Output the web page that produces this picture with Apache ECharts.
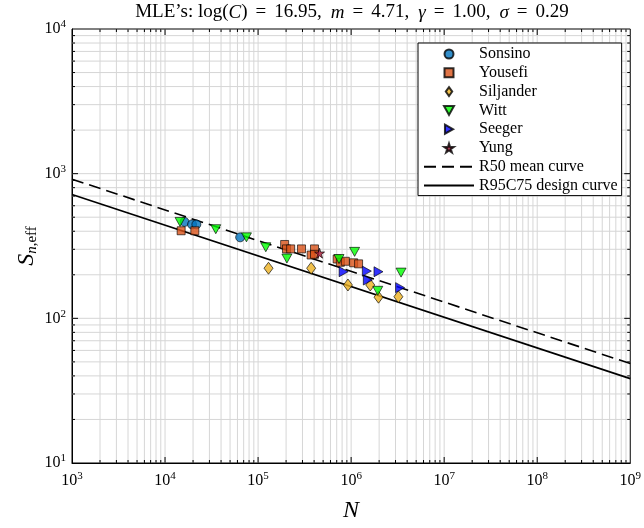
<!DOCTYPE html>
<html>
<head>
<meta charset="utf-8">
<script src="https://cdn.jsdelivr.net/npm/echarts@6/dist/echarts.min.js"></script>
<style>html,body{margin:0;padding:0;background:#fff}#c{width:644px;height:528px}</style>
</head>
<body>
<div id="c"></div>
<script>
// ---- data ----
const sonsinoN = [16.2e3, 19.5e3, 21.7e3, 64.2e3];
const sonsinoS = [464, 446, 446, 363];
const yousefiN = [14.9e3, 20.9e3, 193e3, 202e3, 224e3, 293e3, 404e3, 372e3, 404e3, 708e3, 766e3, 867e3, 1.064e6, 1.203e6];
const yousefiS = [403, 403, 324, 302, 302, 302, 302, 274, 277, 257, 244, 248, 242, 238];
const siljanderN = [129.5e3, 372e3, 924e3, 1.605e6, 1.969e6, 3.22e6];
const siljanderS = [222, 222, 170, 170, 140, 141];
const wittN = [14.5e3, 35.1e3, 75e3, 121e3, 204e3, 741e3, 1.09e6, 1.934e6, 3.44e6];
const wittS = [464, 413, 363, 310, 259, 257, 288, 155, 207];
const seegerN = [831e3, 1.476e6, 1.969e6, 1.512e6, 3.36e6];
const seegerS = [210, 212, 210, 184, 163];
const yungN = [458e3];
const yungS = [282];
const curveN = [1e3, 1e9];
const r50S = [916, 48.7];
const r95S = [719, 38.3];
const xRange = [1e3, 1e9];
const yRange = [10, 1e4];

const FONT = 'Liberation Serif';
const zip = (a, b) => a.map((v, i) => [v, b[i]]);

// minor/major grid positions (axis decoration)
const xGrid = [], yGrid = [];
for (let d = 3; d < 9; d++) for (let k = 1; k <= 9; k++) { const v = k * Math.pow(10, d); if (v > xRange[0] && v < xRange[1]) xGrid.push([v, yRange[0], k === 1 ? 1 : 0]); }
for (let d = 1; d < 4; d++) for (let k = 1; k <= 9; k++) { const v = k * Math.pow(10, d); if (v > yRange[0] && v < yRange[1]) yGrid.push([xRange[0], v, k === 1 ? 1 : 0]); }

const GRIDC = '#d6d6d6';
function renderX(params, api) {
  const v = api.value(0), major = api.value(2) === 1;
  const b = api.coord([v, yRange[0]]), t = api.coord([v, yRange[1]]);
  const len = major ? 6 : 3;
  return { type: 'group', children: [
    { type: 'line', shape: { x1: b[0], y1: b[1], x2: t[0], y2: t[1] }, style: { stroke: GRIDC, lineWidth: 1 } },
    { type: 'line', shape: { x1: b[0], y1: b[1], x2: b[0], y2: b[1] - len }, style: { stroke: '#000', lineWidth: 1 } },
    { type: 'line', shape: { x1: t[0], y1: t[1], x2: t[0], y2: t[1] + len }, style: { stroke: '#000', lineWidth: 1 } }
  ] };
}
function renderY(params, api) {
  const v = api.value(1), major = api.value(2) === 1;
  const l = api.coord([xRange[0], v]), r = api.coord([xRange[1], v]);
  const len = major ? 6 : 3;
  return { type: 'group', children: [
    { type: 'line', shape: { x1: l[0], y1: l[1], x2: r[0], y2: r[1] }, style: { stroke: GRIDC, lineWidth: 1 } },
    { type: 'line', shape: { x1: l[0], y1: l[1], x2: l[0] + len, y2: l[1] }, style: { stroke: '#000', lineWidth: 1 } },
    { type: 'line', shape: { x1: r[0], y1: r[1], x2: r[0] - len, y2: r[1] }, style: { stroke: '#000', lineWidth: 1 } }
  ] };
}

const powLabel = v => '{b|10}{s|' + Math.round(Math.log10(v)) + '}';
const powRich = {
  b: { fontFamily: FONT, fontSize: 16, color: '#000', lineHeight: 20 },
  s: { fontFamily: FONT, fontSize: 11, color: '#000', lineHeight: 20, padding: [0, 0, 9, 0] }
};

const STAR = 'path://M50,0 L61,35 L98,35 L68,57 L79,91 L50,70 L21,91 L32,57 L2,35 L39,35 Z';
const DOWN = 'path://M0,0 L10,0 L5,9 Z';
const RIGHT = 'path://M0,0 L9,5 L0,10 Z';
const SQUARE = 'path://M0,0 L10,0 L10,10 L0,10 Z';
const DIAMOND = 'path://M5,0 L10,7 L5,14 L0,7 Z';
const edge = { borderColor: '#000', borderWidth: 0.8 };

const chart = echarts.init(document.getElementById('c'), null, { renderer: 'canvas' });
chart.setOption({
  animation: false,
  backgroundColor: '#fff',
  grid: { left: 72, right: 11, top: 29, bottom: 58, show: true, borderColor: '#000', borderWidth: 1, backgroundColor: 'transparent' },
  graphic: [{
    type: 'text', x: 352, y: 3,
    style: {
      text: '{r|MLE\u2019s: log(}{i|C}{r|)}{g|}{r|=}{g|}{r|16.95,}{h|}{i|m}{g|}{r|=}{g|}{r|4.71,}{h|}{i|\u03b3}{g|}{r|=}{g|}{r|1.00,}{h|}{i|\u03c3}{g|}{r|=}{g|}{r|0.29}',
      align: 'center',
      rich: {
        r: { fontFamily: FONT, fontSize: 19, fill: '#000' },
        i: { fontFamily: FONT, fontSize: 19, fontStyle: 'italic', fill: '#000' },
        g: { width: 8 },
        h: { width: 9 }
      }
    }
  }],
  xAxis: {
    type: 'log', logBase: 10, min: xRange[0], max: xRange[1],
    axisLine: { show: true, lineStyle: { color: '#000', width: 1 } },
    axisTick: { show: false }, splitLine: { show: false }, minorTick: { show: false },
    axisLabel: { formatter: powLabel, rich: powRich, margin: 8, showMinLabel: true, showMaxLabel: true },
    name: '{n|N}', nameLocation: 'middle', nameGap: 36,
    nameTextStyle: { rich: { n: { fontFamily: FONT, fontSize: 24, fontStyle: 'italic', color: '#000' } } }
  },
  yAxis: {
    type: 'log', logBase: 10, min: yRange[0], max: yRange[1],
    axisLine: { show: true, lineStyle: { color: '#000', width: 1 } },
    axisTick: { show: false }, splitLine: { show: false }, minorTick: { show: false },
    axisLabel: { formatter: powLabel, rich: powRich, margin: 6, showMinLabel: true, showMaxLabel: true },
    name: '{S|S}{n|n}{e|,eff}', nameLocation: 'middle', nameGap: 31, nameRotate: 90, nameMoveOverlap: false,
    nameTextStyle: { rich: {
      S: { fontFamily: FONT, fontSize: 24, fontStyle: 'italic', color: '#000', lineHeight: 28 },
      n: { fontFamily: FONT, fontSize: 15, fontStyle: 'italic', color: '#000', lineHeight: 28, padding: [10, 0, 0, 0] },
      e: { fontFamily: FONT, fontSize: 15, color: '#000', lineHeight: 28, padding: [10, 0, 0, 0] }
    } }
  },
  legend: {
    orient: 'vertical', left: 418, top: 43,
    backgroundColor: '#fff', borderColor: '#000', borderWidth: 1,
    padding: [2, 4, 1, 5], itemWidth: 50, itemHeight: 9, itemGap: 0.8, itemTextGap: 6,
    textStyle: { fontFamily: FONT, fontSize: 16, color: '#000', lineHeight: 18 },
    data: ['Sonsino', 'Yousefi', 'Siljander', 'Witt', 'Seeger', 'Yung',
      { name: 'R50 mean curve', itemStyle: { opacity: 0 } },
      { name: 'R95C75 design curve', itemStyle: { opacity: 0 } }]
  },
  series: [
    { type: 'custom', renderItem: renderX, data: xGrid, silent: true, z: 1, clip: false },
    { type: 'custom', renderItem: renderY, data: yGrid, silent: true, z: 1, clip: false },
    { name: 'R50 mean curve', type: 'line', data: zip(curveN, r50S), symbol: 'none', z: 3,
      lineStyle: { color: '#000', width: 1.6, type: [12, 6] }, itemStyle: { color: '#000' } },
    { name: 'R95C75 design curve', type: 'line', data: zip(curveN, r95S), symbol: 'none', z: 3,
      lineStyle: { color: '#000', width: 1.6 }, itemStyle: { color: '#000' } },
    { name: 'Sonsino', type: 'scatter', data: zip(sonsinoN, sonsinoS), symbol: 'circle', symbolSize: 9, z: 4,
      itemStyle: Object.assign({ color: '#0072BD' }, edge) },
    { name: 'Yousefi', type: 'scatter', data: zip(yousefiN, yousefiS), symbol: SQUARE, symbolSize: 8, z: 4,
      itemStyle: Object.assign({ color: '#D95319' }, edge) },
    { name: 'Siljander', type: 'scatter', data: zip(siljanderN, siljanderS), symbol: DIAMOND, symbolSize: [9, 12], z: 4,
      itemStyle: Object.assign({ color: '#EDB120' }, edge) },
    { name: 'Witt', type: 'scatter', data: zip(wittN, wittS), symbol: DOWN, symbolSize: [10, 9], z: 4,
      itemStyle: Object.assign({ color: '#00ff00' }, edge) },
    { name: 'Seeger', type: 'scatter', data: zip(seegerN, seegerS), symbol: RIGHT, symbolSize: [9, 10], z: 4,
      itemStyle: Object.assign({ color: '#0000ff' }, edge) },
    { name: 'Yung', type: 'scatter', data: zip(yungN, yungS), symbol: STAR, symbolSize: 10, z: 5,
      itemStyle: Object.assign({ color: '#A2142F' }, edge) }
  ]
});
</script>
</body>
</html>
